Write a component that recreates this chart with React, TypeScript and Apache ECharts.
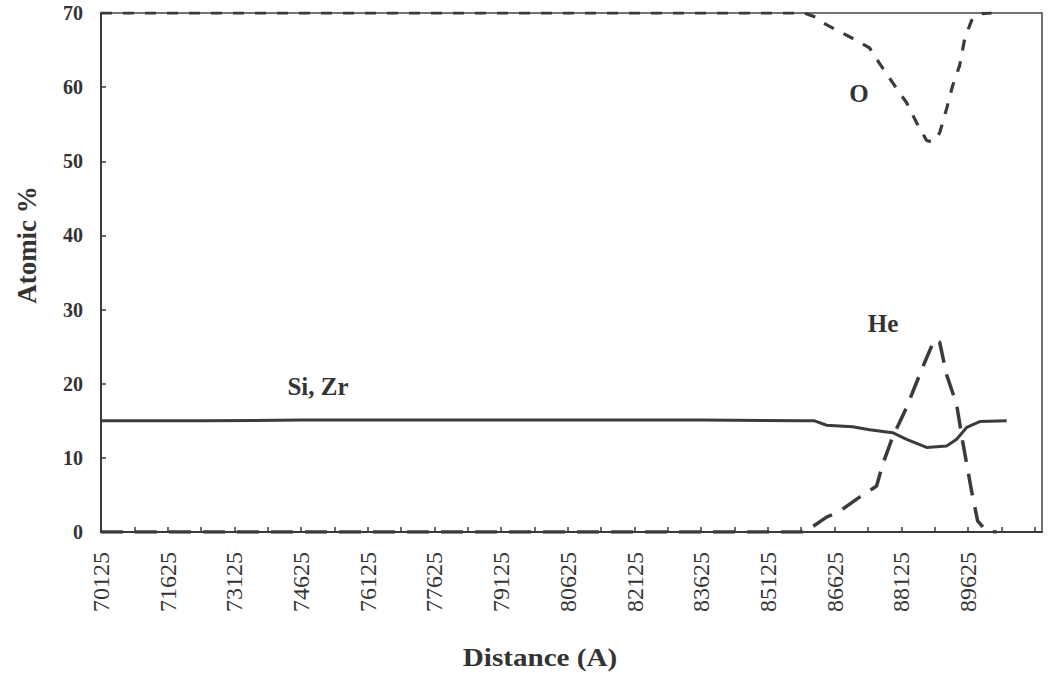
import React, { useEffect, useRef } from "react";
import * as echarts from "echarts";

// Distance (A) values and atomic % readings
const siZrDistance = [70125, 72375, 74625, 76875, 79125, 81375, 83625, 85875, 86175, 86445, 87030, 87410, 87930, 88245, 88695, 89145, 89370, 89595, 89890, 90495];
const siZrValues = [15.0, 15.0, 15.1, 15.1, 15.1, 15.1, 15.1, 15.0, 15.0, 14.4, 14.2, 13.8, 13.4, 12.5, 11.4, 11.6, 12.5, 14.1, 14.9, 15.0];

const heDistance = [70125, 73125, 76125, 79125, 82125, 85125, 85950, 86445, 86737, 87187, 87570, 87705, 87930, 88245, 88470, 88695, 88875, 88987, 89145, 89370, 89505, 89707, 89842, 90045, 90270];
const heValues = [0, 0, 0, 0, 0, 0, 0, 2.0, 2.8, 4.7, 6.2, 9.1, 12.8, 16.8, 20.2, 23.5, 26.0, 25.6, 21.2, 17.2, 12.2, 5.5, 1.5, 0.1, 0];

const oDistance = [70125, 73125, 76125, 79125, 82125, 85125, 85950, 86220, 86355, 86670, 87120, 87410, 87635, 87930, 88245, 88470, 88695, 88830, 88987, 89145, 89280, 89437, 89550, 89707, 89890, 90157];
const oValues = [70, 70, 70, 70, 70, 70, 70, 69.4, 68.7, 67.7, 66.3, 65.3, 63.2, 60.6, 57.9, 55.2, 52.8, 52.6, 53.8, 57.1, 60.2, 62.9, 66.5, 69.0, 69.9, 70.0];

const tickDistances = [70125, 70875, 71625, 72375, 73125, 73875, 74625, 75375, 76125, 76875, 77625, 78375, 79125, 79875, 80625, 81375, 82125, 82875, 83625, 84375, 85125, 85875, 86625, 87375, 88125, 88875, 89625, 90375, 91125];
const labelDistances = [70125, 71625, 73125, 74625, 76125, 77625, 79125, 80625, 82125, 83625, 85125, 86625, 88125, 89625];

const yTicks = [0, 10, 20, 30, 40, 50, 60, 70];

const pairs = (xs: number[], ys: number[]) => xs.map((x, i) => [x, ys[i]]);

const INK = "#333333";
const FONT = "'Liberation Serif', 'DejaVu Serif', serif";

export default function App() {
  const ref = useRef<HTMLDivElement>(null);
  useEffect(() => {
    if (!ref.current) return;
    const chart = echarts.init(ref.current, null, { renderer: "svg" });
    chart.setOption({
      animation: false,
      backgroundColor: "#ffffff",
      grid: {
        left: 101,
        top: 13,
        width: 941,
        height: 519,
        containLabel: false,
        outerBoundsMode: "none",
        show: true,
        borderColor: "#444444",
        borderWidth: 1.5,
        backgroundColor: "transparent",
      },
      xAxis: {
        type: "value",
        min: 70125,
        max: 91290,
        axisLine: { show: true, lineStyle: { color: "#3a3a3a", width: 2 } },
        axisTick: { show: true, inside: true, length: 5, customValues: tickDistances, lineStyle: { color: "#3a3a3a", width: 1.5 } },
        axisLabel: {
          customValues: labelDistances,
          rotate: 90,
          margin: 20,
          color: INK,
          fontFamily: FONT,
          fontSize: 24,
          formatter: (v: number) => String(v),
        },
        splitLine: { show: false },
      },
      yAxis: {
        type: "value",
        min: 0,
        max: 70,
        interval: 10,
        axisLine: { show: true, lineStyle: { color: "#3a3a3a", width: 2 } },
        axisTick: { show: true, inside: true, length: 5, lineStyle: { color: "#3a3a3a", width: 1.5 } },
        axisLabel: {
          margin: 18,
          color: INK,
          fontFamily: FONT,
          fontSize: 20,
          fontWeight: "bold",
          formatter: (v: number) => (yTicks.includes(v) ? String(v) : ""),
        },
        splitLine: { show: false },
      },
      series: [
        {
          name: "Si, Zr",
          type: "line",
          data: pairs(siZrDistance, siZrValues),
          showSymbol: false,
          smooth: false,
          lineStyle: { color: "#3b3b3b", width: 3 },
          z: 3,
        },
        {
          name: "He",
          type: "line",
          data: pairs(heDistance, heValues),
          showSymbol: false,
          lineStyle: { color: "#3b3b3b", width: 3.5, type: [22, 12] },
          z: 2,
        },
        {
          name: "O",
          type: "line",
          data: pairs(oDistance, oValues),
          showSymbol: false,
          lineStyle: { color: "#3b3b3b", width: 3.2, type: [11, 11] },
          z: 2,
        },
      ],
      graphic: [
        {
          type: "text",
          x: 27,
          y: 245,
          rotation: Math.PI / 2,
          style: { text: "Atomic %", fill: INK, font: `bold 27px ${FONT}`, align: "center", verticalAlign: "middle" },
        },
        {
          type: "text",
          x: 540,
          y: 657,
          scaleX: 1.12,
          style: { text: "Distance (A)", fill: INK, font: `bold 26px ${FONT}`, align: "center", verticalAlign: "middle" },
        },
        {
          type: "text",
          x: 859,
          y: 93,
          style: { text: "O", fill: INK, font: `bold 25px ${FONT}`, align: "center", verticalAlign: "middle" },
        },
        {
          type: "text",
          x: 883,
          y: 323,
          style: { text: "He", fill: INK, font: `bold 25px ${FONT}`, align: "center", verticalAlign: "middle" },
        },
        {
          type: "text",
          x: 318,
          y: 386,
          style: { text: "Si, Zr", fill: INK, font: `bold 25px ${FONT}`, align: "center", verticalAlign: "middle" },
        },
      ],
    });
    return () => chart.dispose();
  }, []);
  return <div ref={ref} style={{ position: "fixed", left: 0, top: 0, width: 1053, height: 673 }} />;
}
